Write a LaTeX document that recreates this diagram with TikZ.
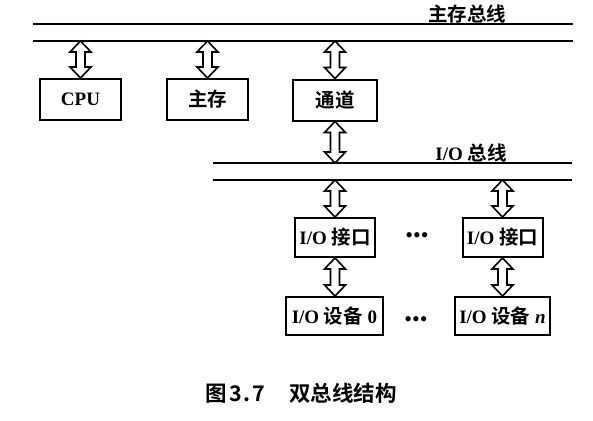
\documentclass[tikz,border=0pt]{standalone}
\usepackage{fontspec}
\setmainfont{Liberation Serif}
\newfontfamily\cjk{Noto Sans CJK SC}[BoldFont={* Bold}]
\usetikzlibrary{calc}
\tikzset{
  box/.style={draw, line width=2pt, minimum height=39pt, inner sep=0pt,
    font=\bfseries\fontsize{19}{21}\selectfont},
  bus/.style={line width=1.7pt},
  lbl/.style={font=\bfseries\fontsize{19}{21}\selectfont, inner sep=0pt},
  dots/.style={font=\fontsize{22}{24}\selectfont, inner sep=0pt},
  hollow/.style={line width=1.6pt, line join=miter, to path={
    let \p1=(\tikztostart), \p2=(\tikztotarget) in
    (\x1,\y1) -- (\x1+10.5pt,\y1-11pt) -- (\x1+4.5pt,\y1-11pt) -- (\x1+4.5pt,\y2+11pt)
    -- (\x1+10.5pt,\y2+11pt) -- (\x1,\y2) -- (\x1-10.5pt,\y2+11pt) -- (\x1-4.5pt,\y2+11pt)
    -- (\x1-4.5pt,\y1-11pt) -- (\x1-10.5pt,\y1-11pt) -- cycle}}
}
\newcommand{\zh}[1]{{\cjk\bfseries\fontsize{19.5}{21}\selectfont #1}}
\begin{document}
\begin{tikzpicture}[x=1pt,y=-1pt]
\useasboundingbox (0,0) rectangle (593,420);
% main bus
\coordinate (mA1) at (33,24);
\coordinate (mA2) at (573,24);
\coordinate (mB1) at (33,41);
\coordinate (mB2) at (573,41);
\draw[bus] (mA1) -- (mA2);
\draw[bus] (mB1) -- (mB2);
\node[lbl] (mlbl) at (467,14) {\zh{主存总线}};
% io bus
\coordinate (iA1) at (213,163);
\coordinate (iA2) at (572,163);
\coordinate (iB1) at (213,180);
\coordinate (iB2) at (572,180);
\draw[bus] (iA1) -- (iA2);
\draw[bus] (iB1) -- (iB2);
\node[lbl] (ilbl) at (471,153) {I/O \zh{总线}};
% top boxes
\node[box, minimum width=81pt, minimum height=41pt] (cpu) at (80.5,99.5) {CPU};
\node[box, minimum width=81pt, minimum height=41pt] (mem) at (207.5,99.5) {\zh{主存}};
\node[box, minimum width=84pt, minimum height=41pt] (chan) at (335,100) {\zh{通道}};
% interfaces
\node[box, minimum width=80pt] (if0) at (335,237.5) {I/O \zh{接口}};
\node[box, minimum width=80pt] (ifn) at (502.5,237.5) {I/O \zh{接口}};
\node[dots] (d1) at (417,238) {•••};
% devices
\node[box, minimum width=97pt, minimum height=38pt] (dev0) at (334.5,316) {I/O \zh{设备} 0};
\node[box, minimum width=95pt, minimum height=38pt] (devn) at (502.5,316) {I/O \zh{设备} \textit{n}};
\node[dots] (d2) at (416,322) {•••};
% arrows
\draw[hollow] (cpu.north |- mB1) to (cpu.north);
\draw[hollow] (mem.north |- mB1) to (mem.north);
\draw[hollow] (chan.north |- mB1) to (chan.north);
\draw[hollow] (chan.south) to (chan.south |- iA1);
\draw[hollow] (if0.north |- iB1) to (if0.north);
\draw[hollow] (ifn.north |- iB1) to (ifn.north);
\draw[hollow] (if0.south) to (if0.south |- dev0.north);
\draw[hollow] (ifn.south) to (ifn.south |- devn.north);
% caption
\node[inner sep=0pt, font=\cjk\bfseries\fontsize{21.5}{23}\selectfont, anchor=west] (cap) at (205,393) {图\hspace{3pt}3\hspace{1.5pt}.\hspace{1.5pt}7\hspace{24pt}双总线结构};
\end{tikzpicture}
\end{document}
